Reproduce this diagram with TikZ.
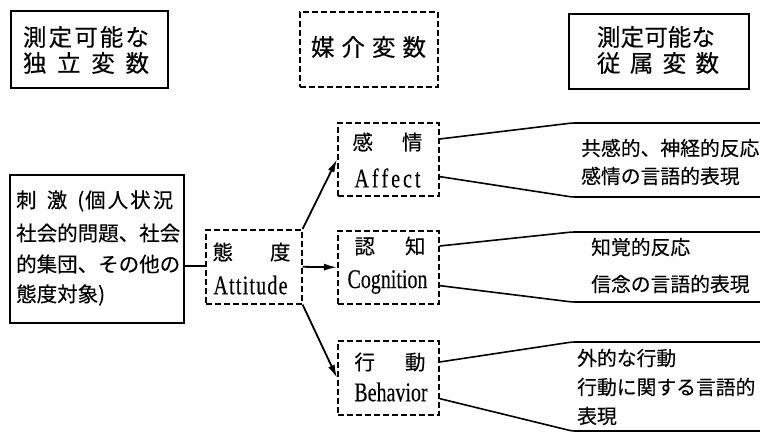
\documentclass[tikz,border=0pt]{standalone}
\usepackage{fontspec}
\newfontfamily\jp[FakeBold=0.25]{Noto Sans CJK JP}
\newfontfamily\lat[FakeStretch=0.74,FakeBold=0.3]{Liberation Serif}
\usetikzlibrary{arrows.meta,calc}
\newcommand\spr[2]{\makebox[#1][s]{#2}}
\begin{document}
\begin{tikzpicture}[x=1pt,y=-1pt,
  solidbox/.style={draw,line width=1.6pt,inner sep=0pt,anchor=north west},
  dashbox/.style={draw,line width=1.6pt,dash pattern=on 6pt off 3pt,inner sep=0pt,anchor=north west},
  jpbig/.style={inner sep=0pt,font=\jp\fontsize{23.5pt}{26pt}\selectfont},
  jpmid/.style={inner sep=0pt,font=\jp\fontsize{20.5pt}{24pt}\selectfont},
  jpsm/.style={inner sep=0pt,anchor=west,font=\jp\fontsize{19.8pt}{24pt}\selectfont},
  latw/.style={inner sep=0pt,font=\lat\fontsize{27pt}{28pt}\selectfont},
  arr/.style={line width=1.8pt,-{Latex[length=13pt,width=7pt]}},
  conn/.style={line width=1.6pt},
  outline/.style={line width=1.6pt,rounded corners=3pt}]
\useasboundingbox (0,0) rectangle (760,433);

% header boxes
\node[solidbox,minimum width=157pt,minimum height=77pt] (ind) at (10,10) {};
\node[jpbig] (ind1) at (86,37) {\spr{126pt}{測\hfill 定\hfill 可\hfill 能\hfill な}};
\node[jpbig] (ind2) at (86,63) {\spr{126pt}{独\hfill 立\hfill 変\hfill 数}};

\node[dashbox,minimum width=138pt,minimum height=75pt] (med) at (299,11) {};
\node[jpbig] (med1) at (368.5,47) {\spr{115pt}{媒\hfill 介\hfill 変\hfill 数}};

\node[solidbox,minimum width=180pt,minimum height=75pt] (dep) at (568,13) {};
\node[jpbig] (dep1) at (656,37) {\spr{118pt}{測\hfill 定\hfill 可\hfill 能\hfill な}};
\node[jpbig] (dep2) at (658,63) {\spr{122pt}{従\hfill 属\hfill 変\hfill 数}};

% stimulus
\node[solidbox,minimum width=174pt,minimum height=148pt] (stim) at (9,174) {};
\node[jpmid,anchor=west] (s1) at (16,201) {\spr{157pt}{刺\hfill 激\hfill (\hspace{1pt}個\hspace{2pt}人\hspace{2pt}状\hspace{2pt}況}};
\node[jpmid,anchor=west] (s2) at (16,233) {\spr{157pt}{社\hfill 会\hfill 的\hfill 問\hfill 題\hfill 、\hfill 社\hfill 会}};
\node[jpmid,anchor=west] (s3) at (16,264) {\spr{157pt}{的\hfill 集\hfill 団\hfill 、\hfill そ\hfill の\hfill 他\hfill の}};
\node[jpmid,anchor=west] (s4) at (16,295) {態度対象)};

% attitude
\node[dashbox,minimum width=96pt,minimum height=74pt] (att) at (205,229) {};
\node[jpmid] (att1) at (251.5,252) {\spr{78pt}{態\hfill 度}};
\node[latw] (att2) at (250.5,285) {\spr{74pt}{A\hfill t\hfill t\hfill i\hfill t\hfill u\hfill d\hfill e}};

% components
\node[dashbox,minimum width=101pt,minimum height=73pt] (aff) at (337,122) {};
\node[jpmid] (aff1) at (387.5,142) {\spr{70pt}{感\hfill 情}};
\node[latw] (aff2) at (387.5,178) {\spr{66pt}{A\hfill f\hfill f\hfill e\hfill c\hfill t}};

\node[dashbox,minimum width=101pt,minimum height=73pt] (cog) at (337,230) {};
\node[jpmid] (cog1) at (390,246) {\spr{71pt}{認\hfill 知}};
\node[latw] (cog2) at (387.5,282) {Cognition};

\node[dashbox,minimum width=101pt,minimum height=74pt] (beh) at (337,340) {};
\node[jpmid] (beh1) at (390,362) {\spr{71pt}{行\hfill 動}};
\node[latw] (beh2) at (391,392) {Behavior};

% connectors
\draw[conn] (stim.east |- 0,266) -- (att.west |- 0,266);
\draw[arr] (att.north east) -- (aff.west);
\draw[arr] (att.east) -- (cog.west);
\draw[arr] (att.south east) -- (beh.west);

% dependent outlines
\coordinate (affTK) at (572,123); \coordinate (affTE) at (761,123);
\coordinate (affBK) at (572,197); \coordinate (affBE) at (761,197);
\draw[outline] ($(aff.north east)+(0,17)$) -- (affTK) -- (affTE);
\draw[outline] ($(aff.south east)+(0,-20)$) -- (affBK) -- (affBE);
\node[jpsm] (affr1) at (581,148) {共感的、神経的反応};
\node[jpsm] (affr2) at (581,176) {感情の言語的表現};

\coordinate (cogTK) at (572,232); \coordinate (cogTE) at (761,232);
\coordinate (cogBK) at (572,302); \coordinate (cogBE) at (761,302);
\draw[outline] ($(cog.north east)+(0,16)$) -- (cogTK) -- (cogTE);
\draw[outline] ($(cog.south east)+(0,-19)$) -- (cogBK) -- (cogBE);
\node[jpsm] (cogr1) at (591,247) {知覚的反応};
\node[jpsm] (cogr2) at (591,284) {信念の言語的表現};

\coordinate (behTK) at (572,342); \coordinate (behTE) at (761,342);
\coordinate (behBK) at (572,431); \coordinate (behBE) at (761,431);
\draw[outline] ($(beh.north east)+(0,22)$) -- (behTK) -- (behTE);
\draw[outline] ($(beh.south east)+(0,-17)$) -- (behBK) -- (behBE);
\node[jpsm] (behr1) at (577,358) {外的な行動};
\node[jpsm] (behr2) at (577,387) {行動に関する言語的};
\node[jpsm] (behr3) at (577,416) {表現};
\end{tikzpicture}
\end{document}
